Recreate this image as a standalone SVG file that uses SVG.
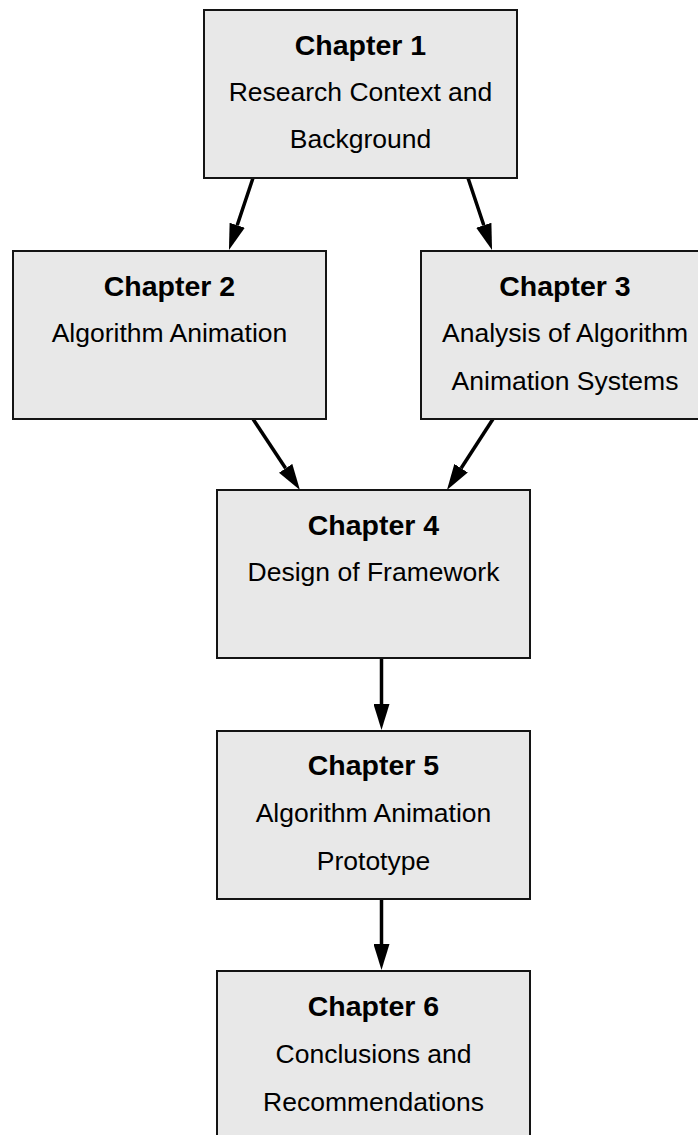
<svg xmlns="http://www.w3.org/2000/svg" width="698" height="1135" viewBox="0 0 698 1135">
  <style>
    .box { fill: #e8e8e8; stroke: #141414; stroke-width: 2; }
    .title { font-family: "Liberation Sans", Arial, sans-serif; font-weight: bold; font-size: 28.5px; fill: #000; text-anchor: middle; }
    .sub { font-family: "Liberation Sans", Arial, sans-serif; font-size: 26.5px; fill: #000; text-anchor: middle; }
    .edge { stroke: #000; stroke-width: 3.5; fill: none; marker-end: url(#head); }
  </style>
  <defs>
    <marker id="head" markerUnits="userSpaceOnUse" viewBox="0 -8 26 16" refX="0" refY="0" markerWidth="26" markerHeight="16" orient="auto">
      <path d="M0,-8 L26,0 L0,8 z" fill="#000"/>
    </marker>
  </defs>

  <rect width="698" height="1135" fill="#fff"/>

  <g id="connectors">
    <line class="edge" x1="253" y1="178" x2="237.2" y2="225.3"/>
    <line class="edge" x1="468" y1="178" x2="483.8" y2="225.3"/>
    <line class="edge" x1="253" y1="419" x2="285.6" y2="468.3"/>
    <line class="edge" x1="493" y1="419" x2="461.1" y2="468.2"/>
    <line class="edge" x1="381.5" y1="659" x2="381.5" y2="704"/>
    <line class="edge" x1="381.5" y1="900" x2="381.5" y2="944"/>
  </g>

  <g id="chapter1">
    <rect class="box" x="204" y="10" width="313" height="168"/>
    <text class="title" x="360.5" y="55">Chapter 1</text>
    <text class="sub" x="360.5" y="101">Research Context and</text>
    <text class="sub" x="360.5" y="148">Background</text>
  </g>

  <g id="chapter2">
    <rect class="box" x="13" y="251" width="313" height="168"/>
    <text class="title" x="169.5" y="296">Chapter 2</text>
    <text class="sub" x="169.5" y="342">Algorithm Animation</text>
  </g>

  <g id="chapter3">
    <rect class="box" x="421" y="251" width="288" height="168"/>
    <text class="title" x="565" y="296">Chapter 3</text>
    <text class="sub" x="565" y="342">Analysis of Algorithm</text>
    <text class="sub" x="565" y="390">Animation Systems</text>
  </g>

  <g id="chapter4">
    <rect class="box" x="217" y="490" width="313" height="168"/>
    <text class="title" x="373.5" y="535">Chapter 4</text>
    <text class="sub" x="373.5" y="581">Design of Framework</text>
  </g>

  <g id="chapter5">
    <rect class="box" x="217" y="731" width="313" height="168"/>
    <text class="title" x="373.5" y="775">Chapter 5</text>
    <text class="sub" x="373.5" y="822">Algorithm Animation</text>
    <text class="sub" x="373.5" y="870">Prototype</text>
  </g>

  <g id="chapter6">
    <rect class="box" x="217" y="971" width="313" height="168"/>
    <text class="title" x="373.5" y="1016">Chapter 6</text>
    <text class="sub" x="373.5" y="1063">Conclusions and</text>
    <text class="sub" x="373.5" y="1111">Recommendations</text>
  </g>
</svg>
